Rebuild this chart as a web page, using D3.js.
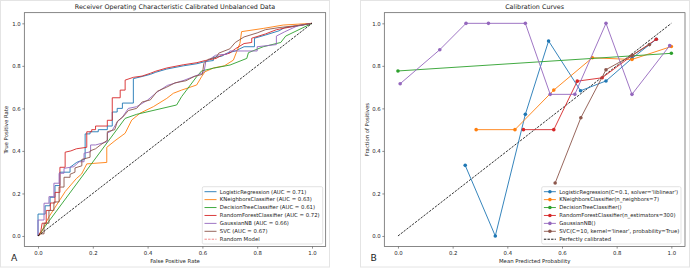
<!DOCTYPE html>
<html><head><meta charset="utf-8">
<script src="https://cdn.jsdelivr.net/npm/d3@7"></script>
<style>
body{margin:0;background:#fff}
svg{display:block}
text{font-family:"DejaVu Sans",sans-serif;fill:#222}
</style>
</head><body>
<svg id="c" width="690" height="268"></svg>
<script>
// ---------- DATA ----------
const ticks = [0.0, 0.2, 0.4, 0.6, 0.8, 1.0];

const rocNames = ["LogisticRegression (AUC = 0.71)","KNeighborsClassifier (AUC = 0.63)","DecisionTreeClassifier (AUC = 0.61)","RandomForestClassifier (AUC = 0.72)","GaussianNB (AUC = 0.66)","SVC (AUC = 0.67)"];
const calNames = ["LogisticRegression(C=0.1, solver='liblinear')","KNeighborsClassifier(n_neighbors=7)","DecisionTreeClassifier()","RandomForestClassifier(n_estimators=300)","GaussianNB()","SVC(C=10, kernel='linear', probability=True)"];
const colors = ["#1f77b4","#ff7f0e","#2ca02c","#d62728","#9467bd","#8c564b"];

// ROC curves: [false positive rate, true positive rate]
const rocLR = [[0,0],[0,0.103],[0.026,0.103],[0.026,0.142],[0.044,0.142],[0.044,0.182],[0.062,0.182],[0.062,0.237],[0.08,0.237],[0.08,0.30],[0.117,0.30],[0.117,0.323],[0.141,0.346],[0.172,0.362],[0.172,0.48],[0.19,0.48],[0.19,0.49],[0.22,0.49],[0.22,0.50],[0.253,0.50],[0.253,0.517],[0.271,0.517],[0.271,0.583],[0.289,0.583],[0.289,0.60],[0.308,0.60],[0.308,0.625],[0.348,0.625],[0.348,0.74],[0.38,0.75],[0.41,0.76],[0.43,0.77],[0.47,0.785],[0.53,0.80],[0.58,0.81],[0.61,0.82],[0.64,0.825],[0.64,0.84],[0.67,0.845],[0.69,0.86],[0.72,0.87],[0.752,0.89],[0.79,0.89],[0.79,0.93],[0.83,0.945],[0.88,0.965],[0.90,0.98],[0.96,0.99],[1,1]];
const rocKNN = [[0,0],[0.01,0.01],[0.02,0.04],[0.04,0.09],[0.06,0.13],[0.08,0.17],[0.10,0.21],[0.12,0.24],[0.14,0.27],[0.159,0.291],[0.178,0.339],[0.251,0.346],[0.251,0.417],[0.281,0.448],[0.318,0.483],[0.342,0.545],[0.372,0.577],[0.421,0.608],[0.470,0.647],[0.494,0.671],[0.524,0.686],[0.579,0.710],[0.597,0.749],[0.609,0.772],[0.64,0.79],[0.68,0.80],[0.713,0.827],[0.737,0.906],[0.743,0.961],[0.822,0.976],[0.895,0.992],[1,1]];
const rocDT = [[0,0],[0.318,0.553],[0.36,0.572],[0.506,0.616],[0.524,0.655],[0.579,0.749],[0.597,0.776],[0.640,0.789],[0.701,0.804],[0.762,0.835],[0.768,0.862],[0.822,0.890],[0.886,0.91],[0.904,0.94],[1,1]];
const rocRF = [[0,0],[0.01,0.02],[0.015,0.06],[0.03,0.06],[0.03,0.12],[0.045,0.12],[0.045,0.155],[0.062,0.155],[0.062,0.205],[0.08,0.205],[0.08,0.323],[0.099,0.323],[0.099,0.394],[0.12,0.40],[0.14,0.41],[0.178,0.417],[0.178,0.49],[0.196,0.49],[0.196,0.50],[0.21,0.50],[0.21,0.517],[0.253,0.517],[0.253,0.544],[0.271,0.544],[0.271,0.65],[0.30,0.65],[0.30,0.686],[0.318,0.686],[0.318,0.733],[0.348,0.746],[0.38,0.752],[0.41,0.765],[0.43,0.775],[0.47,0.79],[0.53,0.805],[0.58,0.815],[0.61,0.825],[0.65,0.835],[0.67,0.85],[0.70,0.86],[0.72,0.88],[0.752,0.905],[0.78,0.91],[0.78,0.93],[0.83,0.95],[0.87,0.97],[0.93,0.985],[1,1]];
const rocNB = [[0,0],[0,0.075],[0.022,0.075],[0.022,0.154],[0.040,0.154],[0.040,0.185],[0.058,0.185],[0.058,0.248],[0.077,0.248],[0.077,0.295],[0.095,0.295],[0.095,0.318],[0.131,0.326],[0.150,0.349],[0.168,0.349],[0.168,0.389],[0.192,0.396],[0.192,0.428],[0.210,0.428],[0.253,0.443],[0.253,0.483],[0.271,0.497],[0.289,0.536],[0.308,0.559],[0.33,0.60],[0.36,0.608],[0.399,0.638],[0.435,0.677],[0.472,0.708],[0.533,0.732],[0.581,0.756],[0.606,0.771],[0.612,0.818],[0.648,0.850],[0.69,0.855],[0.70,0.87],[0.752,0.87],[0.80,0.87],[0.80,0.89],[0.87,0.90],[0.87,0.94],[0.90,0.96],[0.95,0.99],[1,1]];
const rocSVC = [[0,0],[0.01,0.01],[0.022,0.01],[0.022,0.06],[0.04,0.06],[0.04,0.12],[0.058,0.12],[0.058,0.16],[0.077,0.16],[0.077,0.23],[0.095,0.23],[0.095,0.276],[0.117,0.276],[0.117,0.29],[0.135,0.30],[0.135,0.32],[0.16,0.33],[0.16,0.36],[0.19,0.37],[0.19,0.40],[0.21,0.41],[0.23,0.43],[0.253,0.45],[0.253,0.49],[0.28,0.50],[0.29,0.54],[0.31,0.56],[0.33,0.59],[0.36,0.60],[0.38,0.63],[0.41,0.64],[0.435,0.68],[0.47,0.70],[0.50,0.72],[0.54,0.73],[0.57,0.75],[0.60,0.76],[0.605,0.81],[0.62,0.83],[0.65,0.84],[0.66,0.86],[0.70,0.88],[0.72,0.91],[0.752,0.936],[0.80,0.955],[0.83,0.97],[0.88,0.98],[0.95,0.99],[1,1]];
const chanceLine = [[0,0],[1,1]];

// Calibration curves: mean predicted probability, fraction of positives
const calLR_x = [0.246,0.356,0.466,0.551,0.668,0.761,0.856,0.945];
const calLR_y = [0.332,0.0,0.572,0.917,0.683,0.729,0.835,0.925];
const calKNN_x = [0.286,0.428,0.570,0.711,0.856,1.0];
const calKNN_y = [0.5,0.5,0.686,0.838,0.830,0.891];
const calDT_x = [0.0,1.0];
const calDT_y = [0.776,0.859];
const calRF_x = [0.459,0.570,0.656,0.747,0.857,0.945];
const calRF_y = [0.5,0.5,0.728,0.744,0.849,0.925];
const calNB_x = [0.008,0.153,0.249,0.331,0.466,0.557,0.647,0.761,0.856,0.994];
const calNB_y = [0.716,0.876,1.0,1.0,1.0,0.666,0.666,1.0,0.666,0.895];
const calSVC_x = [0.575,0.669,0.761,0.857,0.92];
const calSVC_y = [0.249,0.556,0.782,0.85,0.90];

const rocSeries = [rocLR, rocKNN, rocDT, rocRF, rocNB, rocSVC];
const calSeries = [[calLR_x,calLR_y],[calKNN_x,calKNN_y],[calDT_x,calDT_y],[calRF_x,calRF_y],[calNB_x,calNB_y],[calSVC_x,calSVC_y]]
  .map(([xs,ys]) => xs.map((v,i)=>[v, ys[i]]));

// ---------- LAYOUT ----------
const svg = d3.select("#c");
const FS = 5.35;

// panel borders
svg.append("rect").attr("x",0.5).attr("y",0.5).attr("width",329).attr("height",266.5).attr("fill","none").attr("stroke","#e4e4e4").attr("stroke-width",1);
svg.append("rect").attr("x",360.5).attr("y",0.5).attr("width",329).attr("height",266.5).attr("fill","none").attr("stroke","#e4e4e4").attr("stroke-width",1);

function panel(opt){
  const x = d3.scaleLinear().domain([-0.05,1.05]).range([opt.x0, opt.x1]);
  const y = d3.scaleLinear().domain([-0.05,1.05]).range([opt.y1, opt.y0]);
  const g = svg.append("g");
  // axes
  const xa = g.append("g").attr("transform",`translate(0,${opt.y1})`)
    .call(d3.axisBottom(x).tickValues(ticks).tickFormat(d3.format(".1f")).tickSize(2).tickPadding(2.2));
  const ya = g.append("g").attr("transform",`translate(${opt.x0},0)`)
    .call(d3.axisLeft(y).tickValues(ticks).tickFormat(d3.format(".1f")).tickSize(2).tickPadding(1.6));
  [xa,ya].forEach(a=>{
    a.select(".domain").remove();
    a.selectAll(".tick line").attr("stroke","#444").attr("stroke-width",0.6);
    a.selectAll(".tick text").attr("font-size",FS).attr("fill","#222").style("font-family","DejaVu Sans");
  });
  // titles
  g.append("text").attr("x",(opt.x0+opt.x1)/2).attr("y",9).attr("text-anchor","middle").attr("font-size",6.4).text(opt.title);
  g.append("text").attr("x",(opt.x0+opt.x1)/2).attr("y",262.6).attr("text-anchor","middle").attr("font-size",FS).text(opt.xlabel);
  g.append("text").attr("transform",`translate(${opt.ylx},${(opt.y0+opt.y1)/2}) rotate(-90)`).attr("text-anchor","middle").attr("dy","0.35em").attr("font-size",FS).text(opt.ylabel);
  g.append("text").attr("x",opt.lx).attr("y",260.5).attr("font-size",9.2).text(opt.letter);
  const clip = g.append("g");
  return {x,y,g,clip};
}

// ---------- LEFT: ROC ----------
const L = panel({x0:24.3,x1:325.7,y0:12.7,y1:246.6,title:"Receiver Operating Characteristic Calibrated Unbalanced Data",
  xlabel:"False Positive Rate",ylabel:"True Positive Rate",ylx:6.6,lx:11,letter:"A"});
const lineL = d3.line().x(d=>L.x(d[0])).y(d=>L.y(d[1]));
rocSeries.forEach((s,i)=>{
  L.g.append("path").datum(s).attr("d",lineL).attr("fill","none").attr("stroke",colors[i]).attr("stroke-width",0.9);
});
L.g.append("path").datum(chanceLine).attr("d",lineL).attr("fill","none").attr("stroke","#000").attr("stroke-width",0.8).attr("stroke-dasharray","2.4,1.2");
L.g.append("rect").attr("x",24.3).attr("y",12.7).attr("width",325.7-24.3).attr("height",246.6-12.7).attr("fill","none").attr("stroke","#555").attr("stroke-width",0.7);

// legend left
function legend(g, x0, y0, w, h, names, withMarkers, lastLabel, lastColor){
  g.append("rect").attr("x",x0).attr("y",y0).attr("width",w).attr("height",h).attr("rx",1.5)
    .attr("fill","#fff").attr("fill-opacity",0.8).attr("stroke","#d0d0d0").attr("stroke-width",0.6);
  const rows = names.map((n,i)=>({n,c:colors[i],dash:false})).concat([{n:lastLabel,c:lastColor,dash:true}]);
  rows.forEach((r,i)=>{
    const yy = y0 + 5 + i*7.92;
    const hx0 = x0 + 2.2, hx1 = x0 + 14.2;
    g.append("line").attr("x1",hx0).attr("x2",hx1).attr("y1",yy).attr("y2",yy)
      .attr("stroke",r.c).attr("stroke-width",0.9).attr("stroke-dasharray",r.dash?"2.4,1.2":null);
    if(withMarkers && !r.dash){
      g.append("circle").attr("cx",(hx0+hx1)/2).attr("cy",yy).attr("r",1.8).attr("fill",r.c);
    }
    g.append("text").attr("x",x0+17.5).attr("y",yy).attr("dy","0.35em").attr("font-size",FS).text(r.n);
  });
}
legend(L.g, 202.3, 186.7, 120.4, 57.3, rocNames, false, "Random Model", "#ee7b7b");

// ---------- RIGHT: Calibration ----------
const R = panel({x0:384.3,x1:685,y0:12.7,y1:246.6,title:"Calibration Curves",
  xlabel:"Mean Predicted Probability",ylabel:"Fraction of Positives",ylx:366.8,lx:370.5,letter:"B"});
const lineR = d3.line().x(d=>R.x(d[0])).y(d=>R.y(d[1]));
R.g.append("path").datum(chanceLine).attr("d",lineR).attr("fill","none").attr("stroke","#000").attr("stroke-width",0.8).attr("stroke-dasharray","2.4,1.2");
calSeries.forEach((s,i)=>{
  R.g.append("path").datum(s).attr("d",lineR).attr("fill","none").attr("stroke",colors[i]).attr("stroke-width",0.9);
  R.g.selectAll(null).data(s).enter().append("circle")
    .attr("cx",d=>R.x(d[0])).attr("cy",d=>R.y(d[1])).attr("r",1.8).attr("fill",colors[i]);
});
R.g.append("rect").attr("x",384.3).attr("y",12.7).attr("width",685-384.3).attr("height",246.6-12.7).attr("fill","none").attr("stroke","#555").attr("stroke-width",0.7);
legend(R.g, 541.7, 186.7, 139.3, 57.3, calNames, true, "Perfectly calibrated", "#000");
</script>
</body></html>
